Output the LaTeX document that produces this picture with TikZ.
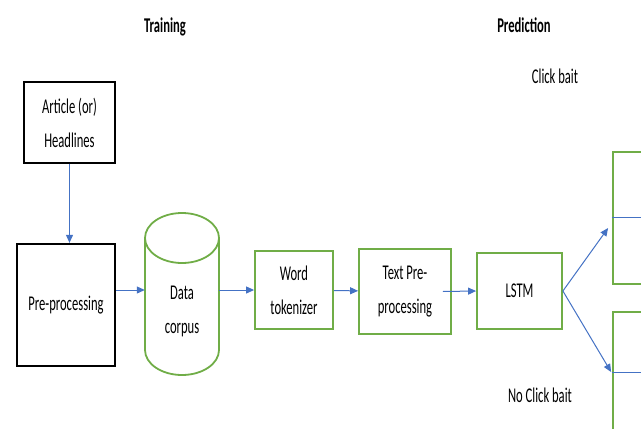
\documentclass[tikz,border=0pt]{standalone}
\usepackage{fontspec}
\setmainfont[FakeStretch=0.6]{Carlito}
\usetikzlibrary{shapes.geometric, arrows.meta, positioning}
\definecolor{boxgreen}{RGB}{112,173,71}
\definecolor{flowblue}{RGB}{68,114,196}
\tikzstyle{blackbox} = [draw=black, line width=1.4pt, align=center, inner sep=0pt]
\tikzstyle{greenbox} = [draw=boxgreen, line width=1.8pt, align=center, inner sep=0pt]
\tikzstyle{arrow} = [flowblue, line width=1pt, -{Triangle[length=8pt,width=7pt]}]
\tikzstyle{boxtext} = [font=\fontsize{21}{34}\selectfont]
\tikzstyle{titletext} = [font=\fontsize{21}{34}\selectfont\bfseries]

\begin{document}
\begin{tikzpicture}[x=1pt, y=1pt, boxtext]

   % Fix the frame of the picture
   \useasboundingbox (0,0) rectangle (641,-429);
   \clip (0,0) rectangle (641,-429);

   % Titles
   \node[titletext] (training) at (165,-27) {Training};
   \node[titletext] (prediction) at (524,-25) {Prediction};

   % Training side
   \node[blackbox, minimum width=91, minimum height=81] (article) at (69.5,-122.5) {Article (or)\\Headlines};
   \node[blackbox, line width=2.3pt, minimum width=98, minimum height=122] (preproc) at (66,-305) {Pre-processing};

   % Data corpus drawn as a cylinder
   \draw[boxgreen, line width=1.8pt] (182,-238) ellipse [x radius=37, y radius=25];
   \draw[boxgreen, line width=1.8pt] (145,-238) -- (145,-350) arc [start angle=180, end angle=360, x radius=37, y radius=25] -- (219,-238);
   \node[align=center, minimum width=74, inner sep=0pt] (corpus) at (182,-311) {Data\\corpus};

   \node[greenbox, minimum width=78, minimum height=78] (wordtok) at (294,-290) {Word\\tokenizer};
   \node[greenbox, minimum width=92, minimum height=85] (textpre) at (405,-291.5) {Text Pre-\\processing};
   \node[greenbox, minimum width=85, minimum height=76] (lstm) at (519.5,-291) {LSTM};

   % Prediction side
   \node[greenbox, minimum width=80, minimum height=132] (clickbox) at (653,-218) {};
   \node[greenbox, minimum width=80, minimum height=150] (noclickbox) at (653,-387) {};
   \node (clickbait) at (555,-76) {Click bait};
   \node (noclickbait) at (540,-395) {No Click bait};

   % Arrows
   \draw[arrow] (article) -- (article |- preproc.north);
   \draw[arrow] (preproc.east |- wordtok) -- (corpus.west |- wordtok);
   \draw[arrow] (corpus.east |- wordtok) -- (wordtok.west);
   \draw[arrow] (wordtok) -- (textpre);
   \draw[arrow] ([xshift=-9]textpre.east) -- (lstm.west);
   \draw[arrow] (lstm.east) -- ([xshift=-4, yshift=-10]clickbox.west);
   \draw[arrow] (lstm.east) -- ([xshift=-1, yshift=15]noclickbox.west);

   % Lines inside the output boxes
   \draw[flowblue, line width=1pt] ([yshift=1]clickbox.west) -- ++(40,0);
   \draw[flowblue, line width=1pt] ([yshift=15]noclickbox.west) -- ++(40,0);

\end{tikzpicture}
\end{document}
